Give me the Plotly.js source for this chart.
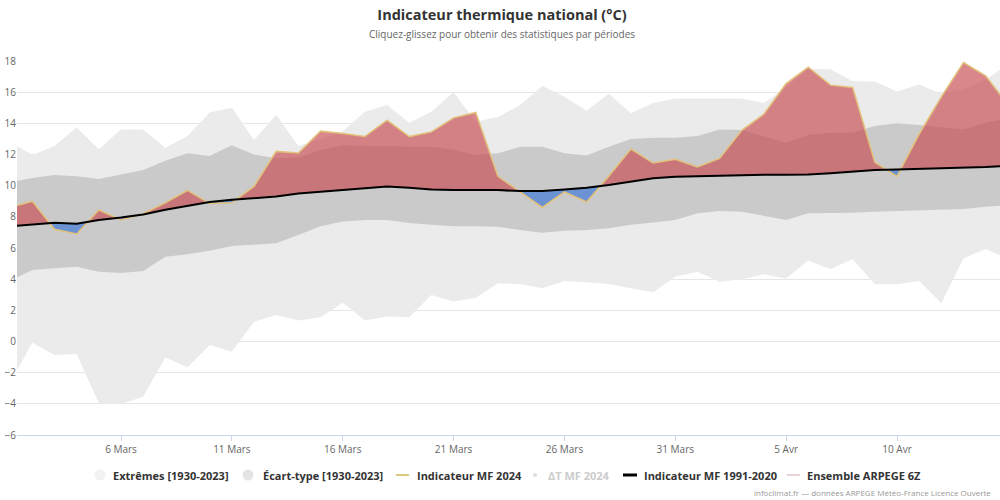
<!DOCTYPE html>
<html>
<head>
<meta charset="utf-8">
<script src="https://cdn.plot.ly/plotly-3.0.1.min.js"></script>
<style>
html,body{margin:0;padding:0;background:#fff;}
#chart{width:1000px;height:500px;}
</style>
</head>
<body>
<div id="chart"></div>
<script>
// ---- Data ----
var dates = ['2024-03-01','2024-03-02','2024-03-03','2024-03-04','2024-03-05','2024-03-06','2024-03-07','2024-03-08','2024-03-09','2024-03-10',
  '2024-03-11','2024-03-12','2024-03-13','2024-03-14','2024-03-15','2024-03-16','2024-03-17','2024-03-18','2024-03-19','2024-03-20',
  '2024-03-21','2024-03-22','2024-03-23','2024-03-24','2024-03-25','2024-03-26','2024-03-27','2024-03-28','2024-03-29','2024-03-30',
  '2024-03-31','2024-04-01','2024-04-02','2024-04-03','2024-04-04','2024-04-05','2024-04-06','2024-04-07','2024-04-08','2024-04-09',
  '2024-04-10','2024-04-11','2024-04-12','2024-04-13','2024-04-14','2024-04-15'];

var extremesHigh = [12.8,11.97,12.55,13.75,12.33,13.6,13.6,12.44,13.19,14.69,
  15.0,12.93,14.55,12.55,13.0,13.5,14.75,15.18,14.04,14.75,
  16.0,14.1,14.4,15.18,16.4,15.7,14.8,15.9,14.65,15.3,
  15.6,15.6,15.6,15.6,15.3,16.3,17.5,17.47,16.7,16.68,
  16.04,16.5,15.9,16.2,16.8,17.8];
var extremesLow = [-2.6,-0.08,-0.87,-0.8,-3.97,-4.01,-3.54,-1.02,-1.66,-0.22,
  -0.65,1.27,1.7,1.34,1.55,2.49,1.34,1.6,1.55,2.98,
  2.56,2.81,3.73,3.69,3.41,3.88,3.8,3.69,3.41,3.16,
  4.16,4.48,3.84,3.99,4.31,4.05,5.19,4.63,5.3,3.67,
  3.67,3.88,2.45,5.34,5.94,5.3];
var ecartHigh = [10.2,10.5,10.69,10.6,10.43,10.7,11.0,11.6,12.08,11.9,
  12.59,12.0,11.76,11.8,12.29,12.6,12.55,12.55,12.5,12.5,
  12.3,11.97,12.08,12.5,12.5,12.08,11.93,12.5,13.0,13.07,
  13.07,13.19,13.6,13.57,13.15,12.76,13.25,13.4,13.4,13.83,
  14.0,13.9,13.75,13.6,14.04,14.3];
var ecartLow = [3.9,4.59,4.7,4.8,4.48,4.4,4.52,5.44,5.6,5.83,
  6.13,6.2,6.3,6.84,7.4,7.7,7.8,7.8,7.6,7.5,
  7.4,7.4,7.37,7.16,6.98,7.1,7.16,7.27,7.5,7.63,
  7.8,8.23,8.37,8.33,8.05,7.8,8.23,8.23,8.27,8.33,
  8.37,8.4,8.47,8.5,8.65,8.75];
var indicateur2024 = [8.6,9.0,7.2,6.9,8.44,7.8,8.2,8.9,9.7,8.85,
  8.9,9.95,12.2,12.1,13.5,13.35,13.15,14.2,13.15,13.45,
  14.35,14.7,10.6,9.6,8.6,9.6,8.95,10.6,12.35,11.45,
  11.7,11.2,11.75,13.55,14.6,16.55,17.6,16.45,16.3,11.5,
  10.6,13.3,15.7,17.9,17.05,15.2];
var normale = [7.4,7.5,7.62,7.55,7.8,7.95,8.15,8.45,8.7,8.95,
  9.1,9.2,9.3,9.5,9.6,9.72,9.82,9.94,9.87,9.75,
  9.72,9.72,9.72,9.65,9.66,9.75,9.87,10.04,10.26,10.47,
  10.58,10.62,10.64,10.69,10.7,10.7,10.72,10.8,10.9,11.0,
  11.04,11.08,11.1,11.15,11.2,11.28];

var tickDates = ['2024-03-06','2024-03-11','2024-03-16','2024-03-21','2024-03-26','2024-03-31','2024-04-05','2024-04-10'];
var tickLabels = ['6 Mars','11 Mars','16 Mars','21 Mars','26 Mars','31 Mars','5 Avr','10 Avr'];

var seriesNames = ['Extrêmes [1930-2023]','Écart-type [1930-2023]','Indicateur MF 2024','ΔT MF 2024','Indicateur MF 1991-2020','Ensemble ARPEGE 6Z'];

// ---- Build the anomaly fill (split at crossings) ----
var xs = dates.map(function(d){ return Date.parse(d); });
var fx = [], fTop = [], fBot = [], fBase = [];
for (var i = 0; i < xs.length; i++) {
  var a = indicateur2024[i], b = normale[i];
  fx.push(xs[i]); fTop.push(Math.max(a,b)); fBot.push(Math.min(a,b)); fBase.push(b);
  if (i < xs.length - 1) {
    var d0 = a - b, d1 = indicateur2024[i+1] - normale[i+1];
    if (d0 * d1 < 0) {
      var t = d0 / (d0 - d1);
      var xc = xs[i] + t * (xs[i+1] - xs[i]);
      var yc = b + t * (normale[i+1] - b);
      fx.push(xc); fTop.push(yc); fBot.push(yc); fBase.push(yc);
    }
  }
}

var FONT = 'Open Sans, sans-serif';
var traces = [
  {x: xs, y: extremesLow, mode:'lines', line:{width:0}, hoverinfo:'skip', name:seriesNames[0]},
  {x: xs, y: extremesHigh, mode:'lines', line:{width:0}, fill:'tonexty', fillcolor:'#ebebeb', hoverinfo:'skip', name:seriesNames[0]},
  {x: xs, y: ecartLow, mode:'lines', line:{width:0}, hoverinfo:'skip', name:seriesNames[1]},
  {x: xs, y: ecartHigh, mode:'lines', line:{width:0}, fill:'tonexty', fillcolor:'#cacaca', hoverinfo:'skip', name:seriesNames[1]},
  {x: fx, y: fBase, mode:'lines', line:{width:0}, hoverinfo:'skip', name:seriesNames[3]},
  {x: fx, y: fTop, mode:'lines', line:{width:0}, fill:'tonexty', fillcolor:'rgba(200,78,84,0.68)', hoverinfo:'skip', name:seriesNames[3]},
  {x: fx, y: fBase, mode:'lines', line:{width:0}, hoverinfo:'skip', name:seriesNames[3]},
  {x: fx, y: fBot, mode:'lines', line:{width:0}, fill:'tonexty', fillcolor:'rgba(70,125,215,0.72)', hoverinfo:'skip', name:seriesNames[3]},
  {x: xs, y: indicateur2024, mode:'lines', line:{color:'#e2c27a', width:1.5}, name:seriesNames[2]},
  {x: xs, y: normale, mode:'lines', line:{color:'#000000', width:2}, name:seriesNames[4]}
];

// ---- Legend (drawn as annotations + shapes to match the original spacing) ----
function px2x(p){ return (p - 17) / 983; }
function py2y(p){ return (435 - p) / 374; }
var legY = 475;
var legSymbols = [
  {kind:'circle', cx:100, r:5.5, color:'#f2f2f2'},
  {kind:'circle', cx:248, r:5.5, color:'#e4e4e4'},
  {kind:'line', x0:396, x1:409, color:'#dccb7c', w:2},
  {kind:'circle', cx:535, r:2, color:'#dddddd'},
  {kind:'line', x0:623, x1:637, color:'#000000', w:3},
  {kind:'line', x0:787, x1:800, color:'#e8d4d4', w:2}
];
var legTextX = [111, 261, 415, 546, 642, 805];
var legTextColor = ['#333333','#333333','#333333','#cccccc','#333333','#333333'];

var shapes = [], annotations = [];
legSymbols.forEach(function(s){
  if (s.kind === 'circle') {
    shapes.push({type:'circle', xref:'paper', yref:'paper',
      x0:px2x(s.cx - s.r), x1:px2x(s.cx + s.r), y0:py2y(legY + s.r), y1:py2y(legY - s.r),
      fillcolor:s.color, line:{width:0}});
  } else {
    shapes.push({type:'line', xref:'paper', yref:'paper',
      x0:px2x(s.x0), x1:px2x(s.x1), y0:py2y(legY), y1:py2y(legY), line:{color:s.color, width:s.w}});
  }
});
seriesNames.forEach(function(n, k){
  annotations.push({text:'<b>' + n + '</b>', xref:'paper', yref:'paper', x:px2x(legTextX[k]), y:py2y(legY),
    xanchor:'left', yanchor:'middle', showarrow:false, font:{family:FONT, size:11, color:legTextColor[k]}});
});
annotations.push({text:'Cliquez-glissez pour obtenir des statistiques par périodes', xref:'paper', yref:'paper', x:px2x(502), y:py2y(34),
  xanchor:'center', yanchor:'middle', showarrow:false, font:{family:FONT, size:10, color:'#666666'}});
annotations.push({text:'infoclimat.fr — données ARPEGE Météo-France Licence Ouverte', xref:'paper', yref:'paper', x:px2x(993), y:py2y(492),
  xanchor:'right', yanchor:'middle', showarrow:false, font:{family:FONT, size:8, color:'#999999'}});

var layout = {
  width:1000, height:500,
  margin:{l:17, r:0, t:61, b:65, pad:0},
  paper_bgcolor:'#ffffff', plot_bgcolor:'#ffffff',
  font:{family:FONT, color:'#666666', size:10},
  title:{text:'<b>Indicateur thermique national (°C)</b>', font:{family:FONT, size:14.5, color:'#333333'},
         x:0.502, xref:'container', xanchor:'center', y:0.97, yref:'container', yanchor:'middle'},
  xaxis:{type:'date', range:['2024-03-01 07:25','2024-04-14 15:30'], showgrid:false, zeroline:false,
         showline:true, linecolor:'#ccd6eb', linewidth:1, ticks:'outside', ticklen:5, tickcolor:'#ccd6eb',
         tickmode:'array', tickvals:tickDates, ticktext:tickLabels, tickfont:{family:FONT, size:10, color:'#666666'}, fixedrange:true},
  yaxis:{range:[-6,18], dtick:2, tick0:0, showgrid:true, gridcolor:'#e6e6e6', gridwidth:1, zeroline:false, showline:false,
         ticks:'', tickfont:{family:FONT, size:10, color:'#666666'}, fixedrange:true},
  showlegend:false,
  shapes:shapes,
  annotations:annotations,
  hovermode:false
};

Plotly.newPlot('chart', traces, layout, {displayModeBar:false, staticPlot:true});
</script>
</body>
</html>
